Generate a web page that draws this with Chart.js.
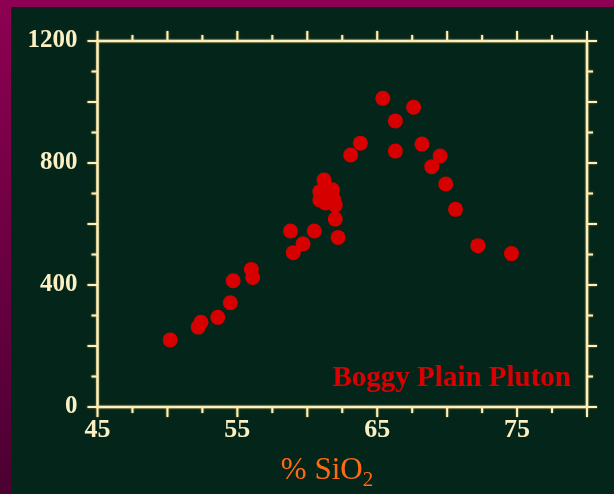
<!DOCTYPE html>
<html>
<head>
<meta charset="utf-8">
<script src="https://cdn.jsdelivr.net/npm/chart.js@4"></script>
<style>
    body { margin: 0; background: #04261a; }
    canvas { display: block; }
</style>
</head>
<body>
<canvas id="plutonChart" width="614" height="494"></canvas>
<script>
// Boggy Plain Pluton: SiO2 (%) against concentration
const sio2 = [50.2, 52.2, 52.4, 53.6, 54.5, 54.7, 56.0, 56.1, 58.8, 60.5, 59.7, 59.0,
    61.2, 61.8, 60.9, 60.9, 61.5, 61.9, 62.0, 61.3, 62.0, 62.2,
    63.1, 63.8, 65.4, 66.3, 66.3, 67.6, 68.2, 69.5, 68.9, 69.9, 70.6, 72.2, 74.6];
const concentration = [220, 262, 278, 294, 342, 414, 451, 425, 577, 577, 535, 506,
    744, 712, 706, 679, 689, 679, 662, 669, 616, 556,
    826, 865, 1012, 938, 839, 983, 862, 823, 788, 731, 648, 529, 503];

const xTickLabels = [45, 55, 65, 75];
const yTickLabels = [0, 400, 800, 1200];
const xMinorStep = 2.5;
const yMinorStep = 100;

const cream = '#fbf0c4';
const serif = '"Liberation Serif", "DejaVu Serif", serif';

const backdrop = {
    id: 'backdrop',
    beforeDraw(chart) {
        const ctx = chart.ctx;
        const grad = ctx.createLinearGradient(0, 0, 0, chart.height);
        grad.addColorStop(0, '#8e0052');
        grad.addColorStop(1, '#4c0032');
        ctx.save();
        ctx.fillStyle = grad;
        ctx.fillRect(0, 0, chart.width, chart.height);
        ctx.fillStyle = '#04261a';
        ctx.fillRect(11, 7, chart.width - 11, chart.height - 7);
        ctx.restore();
    }
};

// box round the plot, with ticks pointing outwards on all four sides
const frame = {
    id: 'frame',
    beforeDatasetsDraw(chart) {
        const ctx = chart.ctx;
        const a = chart.chartArea;
        const xs = chart.scales.x;
        const ys = chart.scales.y;
        ctx.save();
        ctx.strokeStyle = cream;
        ctx.shadowColor = 'rgba(255, 200, 60, 0.7)';
        ctx.shadowBlur = 2;
        ctx.lineWidth = 2.5;
        ctx.strokeRect(a.left, a.top, a.right - a.left, a.bottom - a.top);

        ctx.lineWidth = 2;
        ctx.beginPath();
        for (let v = xs.min; v <= xs.max + 1e-9; v += xMinorStep) {
            const px = xs.getPixelForValue(v);
            const len = v % 5 === 0 ? 10 : 6;
            ctx.moveTo(px, a.bottom);
            ctx.lineTo(px, a.bottom + len);
            ctx.moveTo(px, a.top);
            ctx.lineTo(px, a.top - len);
        }
        for (let v = ys.min; v <= ys.max + 1e-9; v += yMinorStep) {
            const py = ys.getPixelForValue(v);
            const len = v % 200 === 0 ? 10 : 6;
            ctx.moveTo(a.left, py);
            ctx.lineTo(a.left - len, py);
            ctx.moveTo(a.right, py);
            ctx.lineTo(a.right + len, py);
        }
        ctx.stroke();
        ctx.restore();
    },
    afterDraw(chart) {
        const ctx = chart.ctx;
        ctx.save();
        ctx.textBaseline = 'alphabetic';

        ctx.fillStyle = '#d80000';
        ctx.font = 'bold 29px ' + serif;
        ctx.textAlign = 'right';
        ctx.fillText('Boggy Plain Pluton', 571, 386);

        // axis title with subscript
        ctx.fillStyle = '#ff6a14';
        ctx.textAlign = 'left';
        ctx.font = '31px ' + serif;
        const main = '% SiO';
        const w = ctx.measureText(main).width;
        ctx.font = '21px ' + serif;
        const ws = ctx.measureText('2').width;
        const x0 = 327 - (w + ws) / 2;
        ctx.font = '31px ' + serif;
        ctx.fillText(main, x0, 479);
        ctx.font = '21px ' + serif;
        ctx.fillText('2', x0 + w, 486);
        ctx.restore();
    }
};

new Chart(document.getElementById('plutonChart'), {
    type: 'scatter',
    data: {
        datasets: [{
            data: sio2.map((x, i) => ({ x: x, y: concentration[i] })),
            backgroundColor: '#d60000',
            borderWidth: 0,
            pointRadius: 7.5,
            pointHoverRadius: 7.5
        }]
    },
    options: {
        responsive: false,
        animation: false,
        events: [],
        layout: { padding: { left: 0, top: 41, right: 27, bottom: 0 } },
        plugins: { legend: { display: false }, tooltip: { enabled: false } },
        scales: {
            x: {
                type: 'linear',
                min: 45,
                max: 80,
                border: { display: false },
                grid: { display: false, drawTicks: false },
                afterBuildTicks: scale => { scale.ticks = xTickLabels.map(v => ({ value: v })); },
                afterFit: scale => { scale.height = 87; },
                ticks: {
                    autoSkip: false,
                    maxRotation: 0,
                    padding: 8,
                    color: cream,
                    callback: value => String(value),
                    font: { family: serif, size: 26, weight: 'bold' }
                }
            },
            y: {
                min: 0,
                max: 1200,
                border: { display: false },
                grid: { display: false, drawTicks: false },
                afterBuildTicks: scale => { scale.ticks = yTickLabels.map(v => ({ value: v })); },
                afterFit: scale => { scale.width = 97.5; },
                ticks: {
                    autoSkip: false,
                    padding: 20,
                    color: cream,
                    callback: value => String(value),
                    font: { family: serif, size: 25, weight: 'bold' }
                }
            }
        }
    },
    plugins: [backdrop, frame]
});
</script>
</body>
</html>
